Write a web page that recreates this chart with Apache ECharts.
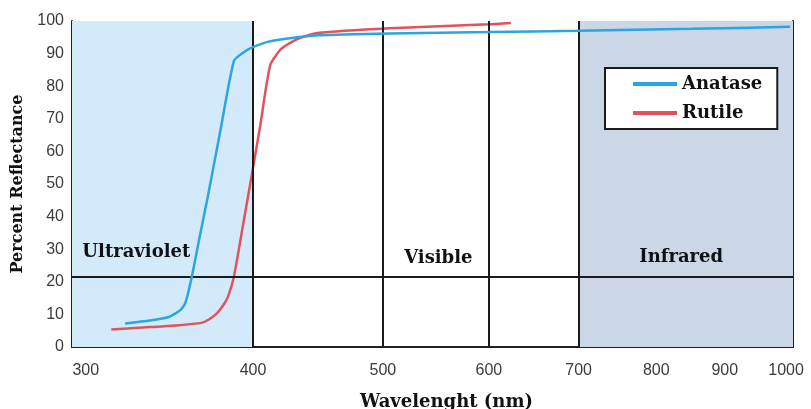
<!DOCTYPE html>
<html>
<head>
<meta charset="utf-8">
<script src="https://cdn.jsdelivr.net/npm/echarts@6/dist/echarts.min.js"></script>
<style>html,body{margin:0;padding:0;background:#fff}#c{width:811px;height:409px}</style>
</head>
<body>
<div id="c"></div>
<script>
// Wavelength (nm) tick labels on the x axis
var xTicks = [300, 400, 500, 600, 700, 800, 900, 1000];
// Vertical divider lines (nm)
var dividers = [400, 500, 600, 700];
// Horizontal divider (percent)
var hLine = 21.5;
// Regions
var uvRange = [293, 400];
var irRange = [700, 1012];
// Anatase curve: [wavelength nm, percent reflectance]
var anatase = [
  [321, 7.2], [335, 8.1], [346, 9.2], [353, 11.3], [356, 13.5], [360, 21.5],
  [365, 34], [370, 46], [378, 66], [387, 87.7], [393, 90.2], [399, 91.8],
  [410, 93.6], [422, 94.5], [447, 95.6], [506, 96.2], [600, 96.6], [700, 97.0],
  [850, 97.6], [1007, 98.2]
];
// Rutile curve
var rutile = [
  [313.5, 5.4], [335, 6.1], [350, 6.6], [366, 7.4], [371, 8.5], [376, 10.4],
  [380, 12.8], [383, 15.3], [387, 21.5], [393, 37], [399, 52.5], [405, 68],
  [412, 86.5], [420, 91.5], [432, 94.5], [447, 96.3], [506, 97.8], [600, 99.0],
  [623, 99.4]
];
var regionLabels = [
  {name: 'Ultraviolet', coord: [298, 29], align: 'left'},
  {name: 'Visible', coord: [550, 27.3], align: 'center'},
  {name: 'Infrared', coord: [835, 27.6], align: 'center'}
];

var serif = '"DejaVu Serif", serif';
var chart = echarts.init(document.getElementById('c'));
var axisLabelStyle = {color: '#3c3c3c', fontFamily: '"Liberation Sans", Arial, sans-serif', fontSize: 16};
var lineMarks = dividers.map(function (d) { return {xAxis: d}; });
lineMarks.push({yAxis: hLine});

chart.setOption({
  animation: false,
  grid: {left: 72, right: 18, top: 21, bottom: 62, outerBoundsMode: 'none', containLabel: false},
  legend: {
    left: 605, top: 68, orient: 'vertical',
    backgroundColor: '#fff', borderColor: '#1a1a1a', borderWidth: 2,
    padding: [7, 15, 7, 28], itemGap: 11, itemWidth: 44, itemHeight: 4, icon: 'rect',
    textStyle: {fontFamily: serif, fontWeight: 'bold', fontSize: 18, color: '#111', lineHeight: 18},
    data: ['Anatase', 'Rutile']
  },
  xAxis: [{
    type: 'log', logBase: 10, min: uvRange[0], max: irRange[1],
    name: 'Wavelenght (nm)', nameLocation: 'middle', nameGap: 46,
    nameTextStyle: {fontFamily: serif, fontWeight: 'bold', fontSize: 18, color: '#111', padding: [0, 0, 0, 28]},
    axisLine: {show: true, lineStyle: {color: '#222', width: 2}},
    axisTick: {show: false},
    splitLine: {show: false},
    axisLabel: Object.assign({customValues: xTicks, margin: 16, formatter: function (v) { return String(Math.round(v)); }}, axisLabelStyle)
  }, {
    type: 'log', logBase: 10, min: uvRange[0], max: irRange[1], position: 'top',
    axisLine: {show: true, lineStyle: {color: '#222', width: 2}},
    axisTick: {show: false}, axisLabel: {show: false}, splitLine: {show: false}
  }],
  yAxis: [{
    type: 'value', min: 0, max: 100, interval: 10,
    name: 'Percent Reflectance', nameLocation: 'middle', nameGap: 46,
    nameTextStyle: {fontFamily: serif, fontWeight: 'bold', fontSize: 16, color: '#111'},
    axisLine: {show: true, lineStyle: {color: '#222', width: 2}},
    axisTick: {show: false}, splitLine: {show: false},
    axisLabel: Object.assign({margin: 8}, axisLabelStyle)
  }, {
    type: 'value', min: 0, max: 100, position: 'right',
    axisLine: {show: true, lineStyle: {color: '#222', width: 2}},
    axisTick: {show: false}, axisLabel: {show: false}, splitLine: {show: false}
  }],
  series: [{
    name: 'Anatase', type: 'line', data: anatase, symbol: 'none', smooth: 0.2,
    lineStyle: {color: '#2ba6de', width: 2.5}, itemStyle: {color: '#2ba6de'}, z: 5,
    markArea: {
      silent: true,
      data: [
        [{xAxis: uvRange[0], yAxis: 0, itemStyle: {color: '#d3eafb'}}, {xAxis: uvRange[1], yAxis: 100}],
        [{xAxis: irRange[0], yAxis: 0, itemStyle: {color: '#cbd6e6'}}, {xAxis: irRange[1], yAxis: 100}]
      ]
    },
    markLine: {
      silent: true, symbol: 'none', label: {show: false},
      lineStyle: {color: '#1a1a1a', width: 2, type: 'solid'},
      data: lineMarks
    },
    markPoint: {
      silent: true, symbol: 'rect', symbolSize: 1, itemStyle: {color: 'rgba(0,0,0,0)'},
      data: regionLabels.map(function (r) {
        return {name: r.name, coord: r.coord, label: {show: true, formatter: r.name, position: r.align === 'left' ? 'right' : 'inside',
          fontFamily: serif, fontWeight: 'bold', fontSize: 18, color: '#111', distance: 0}};
      })
    }
  }, {
    name: 'Rutile', type: 'line', data: rutile, symbol: 'none', smooth: 0.2,
    lineStyle: {color: '#e2525a', width: 2.5}, itemStyle: {color: '#e2525a'}, z: 4
  }]
});
</script>
</body>
</html>
